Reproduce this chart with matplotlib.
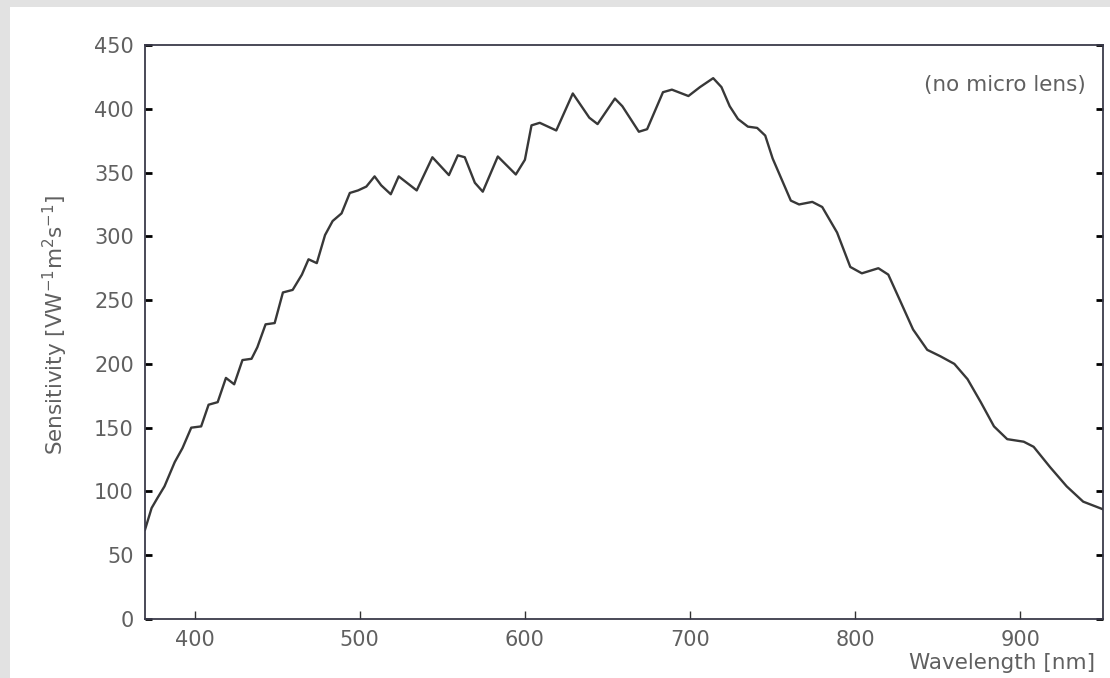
import matplotlib
matplotlib.use("Agg")
import matplotlib.pyplot as plt
from matplotlib.patches import Rectangle

plt.rcParams['font.family'] = ['DejaVu Sans']
plt.rcParams['mathtext.default'] = 'regular'

# spectral sensitivity
wavelength = [370, 374, 377.6, 381.8, 388, 392.7, 398, 404, 408.5, 414, 419, 424,
              429, 434.5, 438, 443, 448.5, 453.5, 459.4, 465, 469, 474, 479, 483.6,
              489, 494, 499, 504, 509, 513, 518.8, 523.6, 534.5, 544, 554, 559.4,
              563.6, 569.7, 574.5, 583.6, 594.5, 600, 604, 609, 619, 629, 639, 644,
              654.5, 659, 669, 674, 683.6, 689, 699, 706, 714, 719, 724, 729, 735,
              740.6, 745.5, 750, 756, 761, 766, 774, 780, 789, 797, 804, 814, 820,
              827, 835, 843.6, 851.5, 860, 868, 876, 884, 892, 902, 908, 918, 928,
              938, 948, 950]
sensitivity = [70, 87, 95, 104, 123, 134, 150, 151, 168, 170, 189, 184,
               203, 204, 213, 231, 232, 256, 258, 270, 282, 279, 301, 312,
               318, 334, 336, 339, 347, 340, 333, 347, 336, 362, 348, 363.5,
               362, 342, 335, 362.6, 348.5, 360, 387, 389, 383, 412, 393, 388,
               408, 402, 382, 384, 413, 415, 410, 417, 424, 417, 402, 392, 386,
               385, 379, 361, 343, 328, 325, 327, 323, 303, 276, 271, 275, 270,
               250, 227, 211, 206, 200, 188, 170, 151, 141, 139, 135, 119, 104,
               92, 87, 86]

x_ticks = [400, 500, 600, 700, 800, 900]
y_ticks = [0, 50, 100, 150, 200, 250, 300, 350, 400, 450]

text_color = '#606060'
line_color = '#383838'

fig = plt.figure(figsize=(11.1, 6.78), dpi=100)
fig.patch.set_facecolor('white')

# light grey frame on top and left edges of the screenshot
fig.patches.append(Rectangle((0, 1 - 7 / 678), 1, 7 / 678, transform=fig.transFigure,
                             facecolor='#e2e2e2', edgecolor='none', zorder=0))
fig.patches.append(Rectangle((0, 0), 10 / 1110, 1, transform=fig.transFigure,
                             facecolor='#e2e2e2', edgecolor='none', zorder=0))

ax = fig.add_axes([145 / 1110, 59 / 678, 958 / 1110, 574 / 678])
ax.plot(wavelength, sensitivity, color=line_color, linewidth=1.7)

ax.set_xlim(370, 950)
ax.set_ylim(0, 450)
ax.set_xticks(x_ticks)
ax.set_yticks(y_ticks)

for side in ax.spines.values():
    side.set_color('#3a3a4a')
    side.set_linewidth(1.3)

ax.tick_params(axis='y', direction='in', length=5, width=2, color='black',
               left=True, right=True, labelsize=15, labelcolor=text_color, pad=8)
ax.tick_params(axis='x', direction='in', length=6, width=1, color='#333333',
               bottom=True, top=False, labelsize=15, labelcolor=text_color, pad=8)

ax.text(0.982, 0.93, '(no micro lens)', transform=ax.transAxes, ha='right',
        va='center', fontsize=15.5, color=text_color)

fig.text(1095 / 1110, 1 - 663 / 678, 'Wavelength [nm]', ha='right', va='center',
         fontsize=15.5, color=text_color)
fig.text(55 / 1110, 1 - 325 / 678, 'Sensitivity [VW$^{-1}$m$^{2}$s$^{-1}$]',
         rotation=90, ha='center', va='center', fontsize=15.5, color=text_color)

fig.savefig('out.png', dpi=100)
